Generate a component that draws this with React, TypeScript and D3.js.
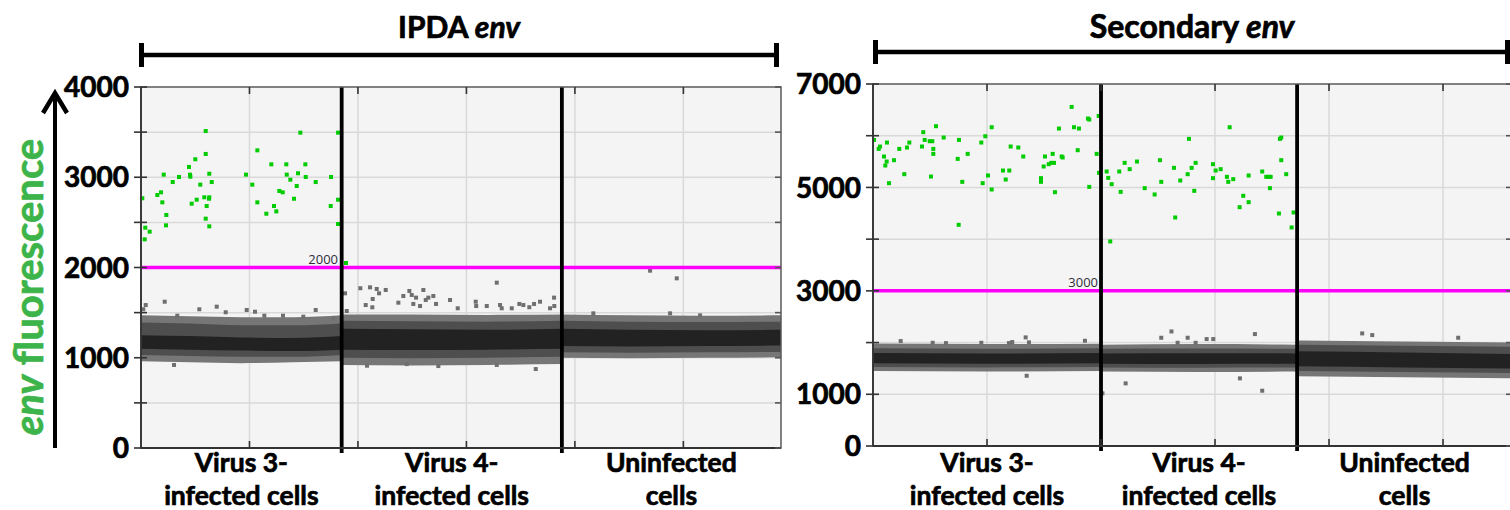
import React from "react";
import * as d3 from "d3";

// ---------------- data ----------------
const titleItalic = "env";
const leftTitle = "IPDA ";
const rightTitle = "Secondary ";
const yTitleItalic = "env";
const yTitleRest = " fluorescence";
const categoryLine1 = ["Virus 3-", "Virus 4-", "Uninfected"];
const categoryLine2 = ["infected cells", "infected cells", "cells"];

const leftYDomain = [0, 4000];
const leftYTickLabels = [0, 1000, 2000, 3000, 4000];
const leftWellBounds = [0, 3700, 7760, 11800];
const leftThreshold = 2000;

const rightYDomain = [0, 7000];
const rightYTickLabels = [0, 1000, 3000, 5000, 7000];
const rightWellBounds = [0, 4000, 7440, 11210];
const rightThreshold = 3000;

// negative droplet cluster per well: [event, outerLo, outerHi, midLo, midHi, coreLo, coreHi]
const leftBandWell1 = [
  [0, 960, 1470, 1030, 1390, 1100, 1250],
  [900, 950, 1460, 1020, 1380, 1090, 1240],
  [1850, 940, 1450, 1010, 1360, 1080, 1225],
  [2800, 950, 1450, 1010, 1360, 1075, 1220],
  [3700, 960, 1470, 1030, 1380, 1090, 1240],
];
const leftBandWell2 = [
  [3700, 920, 1480, 1000, 1410, 1090, 1320],
  [5000, 915, 1480, 995, 1405, 1085, 1315],
  [6400, 920, 1475, 1000, 1400, 1090, 1310],
  [7760, 930, 1480, 1010, 1410, 1100, 1320],
];
const leftBandWell3 = [
  [7760, 1000, 1480, 1060, 1410, 1130, 1320],
  [9000, 995, 1470, 1055, 1400, 1125, 1310],
  [10400, 1000, 1465, 1060, 1395, 1130, 1305],
  [11800, 1005, 1470, 1065, 1400, 1135, 1310],
];
const rightBandWell1 = [
  [0, 1450, 1980, 1530, 1890, 1600, 1800],
  [2000, 1440, 1970, 1520, 1880, 1590, 1790],
  [4000, 1450, 1975, 1530, 1890, 1600, 1800],
];
const rightBandWell2 = [
  [4000, 1440, 1960, 1520, 1880, 1590, 1790],
  [5700, 1430, 1970, 1515, 1885, 1585, 1795],
  [7440, 1440, 1960, 1520, 1880, 1590, 1790],
];
const rightBandWell3 = [
  [7440, 1350, 2040, 1450, 1960, 1540, 1830],
  [9300, 1330, 2020, 1430, 1940, 1520, 1810],
  [11210, 1310, 2000, 1410, 1920, 1500, 1780],
];

// positive droplets [event, amplitude]
const leftPositive = [
  [24, 2767], [79, 2441], [160, 2397], [68, 2312], [301, 2803], [369, 2833], [393, 2722],
  [419, 3029], [467, 2582], [461, 2467], [585, 2947], [701, 3003], [885, 3114], [904, 3029],
  [910, 3006], [935, 2707], [1001, 3199], [1027, 2751], [1093, 2918], [1193, 3512], [1193, 3258],
  [1259, 3039], [1304, 2947], [1167, 2778], [1259, 2778], [1254, 2762], [1211, 2681], [1193, 2541],
  [1259, 2456], [1936, 3029], [2052, 2918], [2145, 3298], [2145, 2722], [2311, 2596], [2403, 3143],
  [2452, 2681], [2495, 2622], [2550, 2848], [2613, 2833], [2679, 3143], [2687, 3029], [2753, 2973],
  [2821, 2762], [2871, 2903], [2895, 3044], [2938, 3494], [3030, 3143], [3037, 3003], [3221, 2947],
  [3504, 3003], [3498, 2681], [3633, 3494], [3633, 2751], [3633, 2482], [3780, 2050],
];
const rightPositive = [
  [18, 5919], [100, 5745], [123, 5791], [193, 5598], [216, 5424], [240, 5501], [245, 5868],
  [281, 5082], [368, 5527], [461, 5745], [549, 5256], [596, 5772], [637, 5868], [859, 5791],
  [882, 6068], [907, 5919], [995, 5894], [1040, 5894], [1058, 5745], [1058, 5649], [1017, 5211],
  [1105, 6184], [1240, 5965], [1486, 5552], [1508, 5919], [1566, 5108], [1503, 4277], [1661, 5649],
  [1900, 5868], [1970, 5990], [1924, 5082], [2017, 5231], [2082, 6164], [2082, 4960], [2280, 5327],
  [2328, 5153], [2391, 5327], [2415, 5791], [2549, 5772], [2636, 5598], [2947, 5179], [2947, 5108],
  [2994, 5405], [3017, 5598], [3082, 5449], [3152, 5649], [3127, 5475], [3175, 5475], [3192, 4908],
  [3262, 6139], [3310, 5598], [3327, 5579], [3485, 6557], [3526, 6164], [3591, 5720], [3613, 6139],
  [3771, 6332], [3794, 6313], [3794, 5011], [3924, 5649], [3959, 6383], [3964, 5282],
  [4099, 5308], [4127, 5185], [4187, 5063], [4162, 3956], [4345, 4914], [4320, 5308], [4415, 5475],
  [4503, 5353], [4631, 5501], [4766, 4986], [4941, 4864], [5034, 5527], [5057, 5108], [5280, 5379],
  [5302, 4419], [5390, 5134], [5520, 5256], [5543, 5939], [5590, 5379], [5636, 4934], [5660, 5475],
  [5964, 5449], [5964, 5179], [6011, 5327], [6099, 5353], [6209, 5205], [6232, 5108], [6257, 6164],
  [6320, 5160], [6432, 4618], [6495, 4838], [6590, 5231], [6590, 4715], [6828, 5308], [6899, 5205],
  [6941, 5205], [6976, 5205], [6963, 4986], [7121, 4496], [7139, 5939], [7162, 5965], [7162, 5527],
  [7249, 5256], [7344, 4226], [7379, 4516],
];

// stray negative droplets outside the dense cluster [event, amplitude]
const leftStray = [
  [87, 1584], [437, 1621], [42, 1537], [669, 1466], [1075, 1537], [1396, 1566], [1562, 1504],
  [1949, 1529], [2102, 1510], [2274, 1466], [2618, 1466], [2993, 1455], [3221, 1529], [3546, 1437],
  [609, 920],
  [3762, 1714], [4044, 1770], [4223, 1780], [4346, 1762], [4389, 1714], [4512, 1751], [4143, 1584],
  [4265, 1559], [3793, 1518], [4272, 1651], [4745, 1610], [4837, 1684], [4948, 1740], [4992, 1695],
  [5071, 1666], [5206, 1751], [5250, 1640], [5298, 1666], [5390, 1684], [5440, 1596], [5021, 1596],
  [5145, 1573], [5698, 1640], [5840, 1548], [6172, 1621], [6180, 1573], [6375, 1573], [6559, 1832],
  [6620, 1584], [6651, 1548], [6836, 1548], [6976, 1596], [7050, 1584], [7160, 1560], [7247, 1596],
  [7357, 1621], [7542, 1548], [7616, 1666], [7620, 1573], [4167, 912], [5482, 908], [4899, 930],
  [6559, 920], [7278, 875],
  [9386, 1965], [9878, 1880], [8340, 1492], [9755, 1492], [10308, 1470],
];
const rightStray = [
  [486, 2029], [1047, 1996], [1280, 1990], [1900, 1996], [2385, 1990], [2443, 2010], [2678, 2100],
  [2736, 2004], [2696, 1358], [3718, 2035],
  [4432, 1211], [5057, 2093], [5236, 2215], [5344, 1996], [5520, 2093], [5660, 1996], [5853, 2068],
  [5969, 2068], [6700, 2164], [6437, 1308], [6828, 1069], [4025, 1018],
  [8582, 2177], [8758, 2145], [10266, 2093],
];

// ---------------- layout / style ----------------
const FONT = "Lato, 'Open Sans', 'DejaVu Sans', sans-serif";
const GREEN_PT = "#00cc00";
const GRAY_PT = "#6f6f6f";
const LAYERS = [
  { lo: 1, hi: 2, fill: "#767676" },
  { lo: 3, hi: 4, fill: "#4e4e4e" },
  { lo: 5, hi: 6, fill: "#222222" },
];
const HEAVY = { stroke: "#000", strokeWidth: 0.7, paintOrder: "stroke" } as any;

type PanelProps = {
  x0: number; x1: number; yTop: number; yBot: number;
  yDomain: number[]; yTickCount: number; yLabels: number[];
  wells: number[]; bands: number[][][];
  positive: number[][]; stray: number[][];
  threshold: number; labelRight: number;
  title: string; titleX: number; titleSize: number; bracketY: number; bracketX0: number; bracketX1: number;
  clipId: string;
};

function Panel(p: PanelProps) {
  const evMax = p.wells[p.wells.length - 1];
  const x = d3.scaleLinear().domain([0, evMax]).range([p.x0, p.x1]);
  const y = d3.scaleLinear().domain(p.yDomain).range([p.yBot, p.yTop]);
  const yGrid = y.ticks(p.yTickCount);
  const xGrid = x.ticks(6).filter((t) => t > 0 && t < evMax);
  const seps = p.wells.slice(1, -1);
  const centers = d3.range(p.wells.length - 1).map((i) => (p.wells[i] + p.wells[i + 1]) / 2);

  return (
    <g>
      <defs>
        <clipPath id={p.clipId}>
          <rect x={p.x0} y={p.yTop} width={p.x1 - p.x0} height={p.yBot - p.yTop} />
        </clipPath>
      </defs>
      <rect x={p.x0} y={p.yTop} width={p.x1 - p.x0} height={p.yBot - p.yTop} fill="#f4f4f4" />
      {yGrid.filter((t) => t > p.yDomain[0] && t < p.yDomain[1]).map((t) => (
        <line key={"hg" + t} x1={p.x0} x2={p.x1} y1={y(t)} y2={y(t)} stroke="#d9d9d9" strokeWidth={1.5} />
      ))}
      {xGrid.map((t) => (
        <line key={"vg" + t} x1={x(t)} x2={x(t)} y1={p.yTop} y2={p.yBot} stroke="#d9d9d9" strokeWidth={1.5} />
      ))}
      <g clipPath={`url(#${p.clipId})`}>
        {p.bands.map((band, bi) =>
          LAYERS.map((L, li) => {
            const area = d3
              .area<number[]>()
              .x((d) => x(d[0]))
              .y0((d) => y(d[L.lo]))
              .y1((d) => y(d[L.hi]))
              .curve(d3.curveMonotoneX);
            return <path key={bi + "-" + li} d={area(band) || ""} fill={L.fill} />;
          })
        )}
        {p.stray.map((d, i) => (
          <rect key={"s" + i} x={x(d[0]) - 2} y={y(d[1]) - 2} width={4} height={4} fill={GRAY_PT} />
        ))}
        {p.positive.map((d, i) => (
          <rect key={"g" + i} x={x(d[0]) - 2} y={y(d[1]) - 2} width={4} height={4} fill={GREEN_PT} />
        ))}
        <line x1={p.x0} x2={p.x1} y1={y(p.threshold)} y2={y(p.threshold)} stroke="#ff00ff" strokeWidth={3.5} />
      </g>
      <text x={p.labelRight} y={y(p.threshold) - 3.5} textAnchor="end" fontSize={13}
        fontFamily="'Open Sans', 'DejaVu Sans', sans-serif" fill="#2e2e3a">{p.threshold}</text>
      {seps.map((s) => (
        <line key={"sep" + s} x1={x(s)} x2={x(s)} y1={p.yTop} y2={p.yBot + 5} stroke="#000" strokeWidth={3.8} />
      ))}
      {/* frame */}
      <rect x={p.x0} y={p.yTop} width={p.x1 - p.x0} height={p.yBot - p.yTop} fill="none" stroke="#5a5a5a" strokeWidth={1.5} />
      <line x1={p.x0} x2={p.x0} y1={p.yTop} y2={p.yBot} stroke="#333" strokeWidth={1.8} />
      <line x1={p.x0} x2={p.x1} y1={p.yBot} y2={p.yBot} stroke="#333" strokeWidth={1.8} />
      {/* ticks */}
      {yGrid.map((t) => (
        <g key={"yt" + t}>
          <line x1={p.x0 - 7} x2={p.x0 + 6} y1={y(t)} y2={y(t)} stroke="#333" strokeWidth={1.6} />
          <line x1={p.x1 - 6} x2={p.x1} y1={y(t)} y2={y(t)} stroke="#555" strokeWidth={1.6} />
        </g>
      ))}
      {xGrid.map((t) => (
        <g key={"xt" + t}>
          <line x1={x(t)} x2={x(t)} y1={p.yTop} y2={p.yTop + 7} stroke="#333" strokeWidth={1.6} />
          <line x1={x(t)} x2={x(t)} y1={p.yBot} y2={p.yBot - 7} stroke="#333" strokeWidth={1.6} />
        </g>
      ))}
      {p.yLabels.map((t) => (
        <text key={"yl" + t} x={p.x0 - 12} y={y(t)} dy="0.36em" textAnchor="end" fontSize={28}
          fontWeight={700} fontFamily={FONT} fill="#000" {...HEAVY}>{t}</text>
      ))}
      {centers.map((c, i) => (
        <text key={"cat" + i} x={x(c)} textAnchor="middle" fontSize={26.5} fontWeight={700} fontFamily={FONT}
          fill="#000" {...HEAVY}>
          <tspan x={x(c)} y={472}>{categoryLine1[i]}</tspan>
          <tspan x={x(c)} y={505}>{categoryLine2[i]}</tspan>
        </text>
      ))}
      {/* title and bracket */}
      <text x={p.titleX} y={38} textAnchor="middle" fontSize={p.titleSize} fontWeight={700} fontFamily={FONT}
        fill="#000" {...HEAVY}>
        {p.title}<tspan fontStyle="italic">{titleItalic}</tspan>
      </text>
      <line x1={p.bracketX0} x2={p.bracketX1} y1={p.bracketY} y2={p.bracketY} stroke="#000" strokeWidth={4.5} />
      <line x1={p.bracketX0 + 2.5} x2={p.bracketX0 + 2.5} y1={p.bracketY - 12} y2={p.bracketY + 12} stroke="#000" strokeWidth={5} />
      <line x1={p.bracketX1 - 2.5} x2={p.bracketX1 - 2.5} y1={p.bracketY - 12} y2={p.bracketY + 12} stroke="#000" strokeWidth={5} />
    </g>
  );
}

export default function App() {
  return (
    <div>
      <style>{"body{margin:0;} svg{display:block;}"}</style>
      <svg width={1510} height={510} viewBox="0 0 1510 510" style={{ background: "#fff" }}>
        {/* y axis title + arrow */}
        <text transform="translate(43,287) rotate(-90)" textAnchor="middle" fontSize={40} fontWeight={700}
          fontFamily={FONT} fill="#3cb44a" stroke="#3cb44a" strokeWidth={0.7}>
          <tspan fontStyle="italic">{yTitleItalic}</tspan>{yTitleRest}
        </text>
        <line x1={55} x2={55} y1={448} y2={94} stroke="#000" strokeWidth={4} />
        <polyline points="43,113 55,93 67,113" fill="none" stroke="#000" strokeWidth={4.5} strokeLinejoin="miter" />
        <Panel
          x0={141} x1={781} yTop={87} yBot={448}
          yDomain={leftYDomain} yTickCount={8} yLabels={leftYTickLabels}
          wells={leftWellBounds} bands={[leftBandWell1, leftBandWell2, leftBandWell3]}
          positive={leftPositive} stray={leftStray}
          threshold={leftThreshold} labelRight={338}
          title={leftTitle} titleX={459} titleSize={30} bracketY={55} bracketX0={139} bracketX1={779}
          clipId="clipL"
        />
        <Panel
          x0={873} x1={1512} yTop={84} yBot={446}
          yDomain={rightYDomain} yTickCount={7} yLabels={rightYTickLabels}
          wells={rightWellBounds} bands={[rightBandWell1, rightBandWell2, rightBandWell3]}
          positive={rightPositive} stray={rightStray}
          threshold={rightThreshold} labelRight={1098}
          title={rightTitle} titleX={1192} titleSize={32} bracketY={52} bracketX0={873} bracketX1={1510}
          clipId="clipR"
        />
      </svg>
    </div>
  );
}
